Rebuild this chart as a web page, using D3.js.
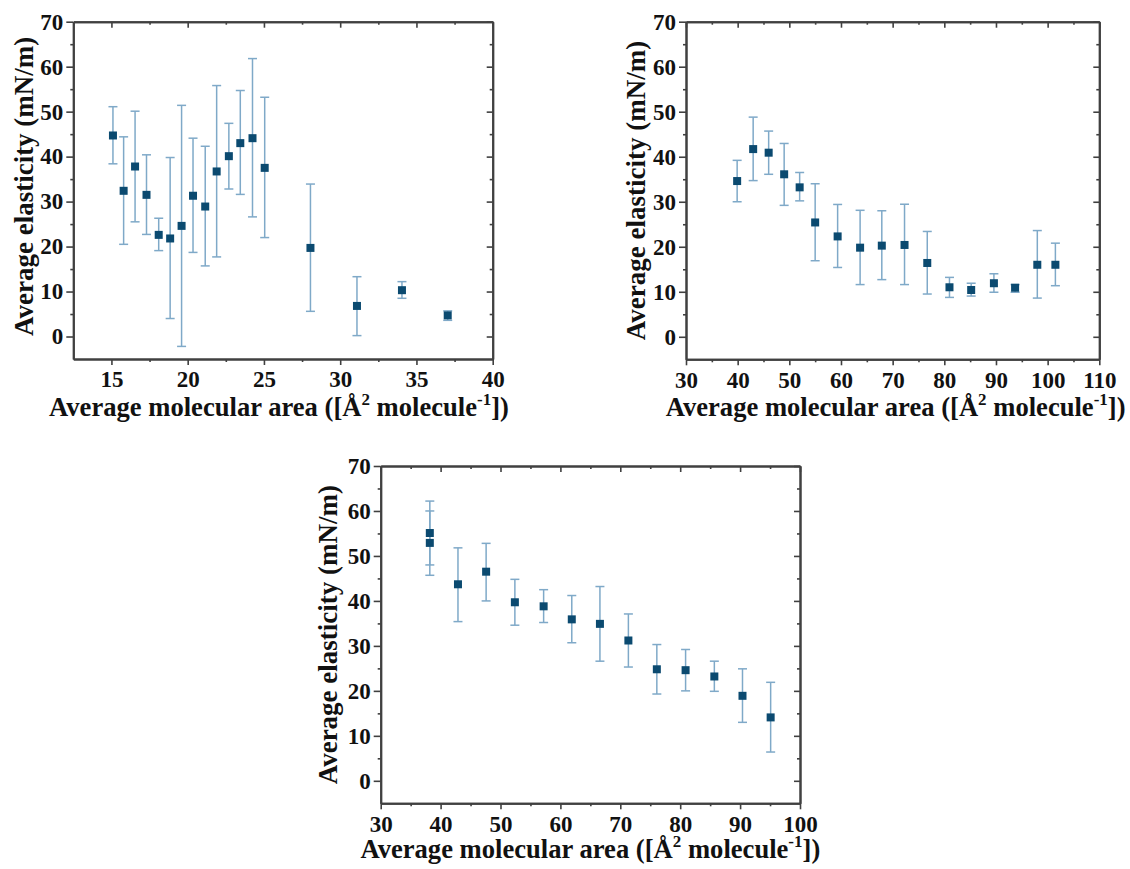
<!DOCTYPE html>
<html>
<head>
<meta charset="utf-8">
<script src="https://cdn.jsdelivr.net/npm/d3@7"></script>
<style>
  body { margin: 0; background: #fff; }
  svg { display: block; }
  .axis path, .axis line { stroke: #404040; }
  .lbl { font-family: 'Liberation Serif'; font-weight: bold; }
</style>
</head>
<body>
<svg id="chart" width="1130" height="869"></svg>
<script>
// panel A (top left)
const areaA = [15.1, 15.8, 16.55, 17.3, 18.1, 18.85, 19.6, 20.35, 21.15, 21.9, 22.7, 23.45, 24.25, 25.05, 28.05, 31.1, 34.05, 37.05];
const elastA = [44.7, 32.4, 37.8, 31.5, 22.6, 21.8, 24.6, 31.3, 28.9, 36.7, 40.1, 43.0, 44.1, 37.5, 19.7, 6.8, 10.3, 4.7];
const hiA = [51.1, 44.4, 50.1, 40.4, 26.3, 39.8, 51.4, 44.1, 42.3, 55.8, 47.4, 54.7, 61.8, 53.2, 33.9, 13.3, 12.2, 5.7];
const loA = [38.4, 20.5, 25.5, 22.7, 19.1, 4.0, -2.2, 18.7, 15.7, 17.7, 32.8, 31.6, 26.6, 22.0, 5.6, 0.2, 8.5, 3.6];

// panel B (top right)
const areaB = [39.9, 43.0, 46.0, 49.0, 52.0, 55.0, 59.35, 63.7, 67.9, 72.3, 76.7, 81.0, 85.2, 89.6, 93.7, 98.0, 101.5];
const elastB = [34.6, 41.7, 40.9, 36.1, 33.2, 25.4, 22.3, 19.8, 20.25, 20.4, 16.4, 11.0, 10.4, 11.9, 10.9, 16.0, 16.0];
const hiB = [39.2, 48.8, 45.7, 42.95, 36.5, 34.0, 29.4, 28.1, 28.0, 29.45, 23.4, 13.2, 11.9, 14.0, 11.6, 23.6, 20.8];
const loB = [30.0, 34.7, 36.1, 29.2, 30.2, 16.9, 15.4, 11.6, 12.7, 11.6, 9.5, 8.75, 9.05, 9.9, 9.9, 8.6, 11.35];

// panel C (bottom)
const areaC = [38.2, 38.2, 42.9, 47.6, 52.4, 57.2, 61.9, 66.6, 71.35, 76.1, 80.9, 85.7, 90.4, 95.1];
const elastC = [55.1, 52.9, 43.7, 46.5, 39.7, 38.8, 35.9, 34.9, 31.2, 24.8, 24.6, 23.2, 18.9, 14.1];
const hiC = [62.2, 60.0, 51.8, 52.8, 44.8, 42.5, 41.2, 43.2, 37.1, 30.3, 29.2, 26.6, 24.9, 21.9];
const loC = [48.0, 45.7, 35.4, 40.0, 34.6, 35.2, 30.7, 26.6, 25.3, 19.3, 20.0, 19.9, 13.0, 6.4];

const yMajor = [0, 10, 20, 30, 40, 50, 60, 70];
const yMinor = [5, 15, 25, 35, 45, 55, 65];
const xMajorA = [15, 20, 25, 30, 35, 40];
const xMinorA = [17.5, 22.5, 27.5, 32.5, 37.5];
const xMajorB = [30, 40, 50, 60, 70, 80, 90, 100, 110];
const xMinorB = [35, 45, 55, 65, 75, 85, 95, 105];
const xMajorC = [30, 40, 50, 60, 70, 80, 90, 100];
const xMinorC = [35, 45, 55, 65, 75, 85, 95];

const yTitle = "Average elasticity (mN/m)";

const svg = d3.select("#chart");

function serif(sel, size) {
  return sel
    .attr("class", "lbl")
    .attr("font-family", "'Liberation Serif'")
    .attr("font-weight", "bold")
    .attr("font-size", size)
    .attr("fill", "#111");
}

function drawPanel(cfg) {
  const { left, right, top, bottom } = cfg.box;
  const x = d3.scaleLinear().domain(cfg.xDomain).range([left, right]);
  const y = d3.scaleLinear().domain([-5, 70]).range([bottom, top]);
  const g = svg.append("g");

  // error bars
  const bars = g.append("g").attr("stroke", "#7fa9c8").attr("stroke-width", 1.5);
  cfg.xs.forEach((xv, i) => {
    const cx = x(xv);
    bars.append("line").attr("x1", cx).attr("x2", cx).attr("y1", y(cfg.hi[i])).attr("y2", y(cfg.lo[i]));
    [cfg.hi[i], cfg.lo[i]].forEach((v) => {
      bars.append("line").attr("x1", cx - 4.5).attr("x2", cx + 4.5).attr("y1", y(v)).attr("y2", y(v));
    });
  });

  // markers
  g.append("g")
    .selectAll("rect")
    .data(cfg.xs.map((xv, i) => [xv, cfg.ys[i]]))
    .join("rect")
    .attr("x", (d) => x(d[0]) - 4)
    .attr("y", (d) => y(d[1]) - 4)
    .attr("width", 8)
    .attr("height", 8)
    .attr("fill", "#0b4a70");

  // axes: bottom/left outward, top/right inward (mirror)
  const addAxis = (axis, transform, labels) => {
    const a = g.append("g").attr("class", "axis").attr("transform", transform).call(axis);
    a.selectAll("path").attr("stroke-width", 2);
    a.selectAll("line").attr("stroke-width", 1.6);
    if (!labels) a.selectAll("text").remove();
    else serif(a.selectAll("text"), 23);
    return a;
  };
  addAxis(d3.axisBottom(x).tickValues(cfg.xMajor).tickSize(6).tickSizeOuter(0).tickPadding(6).tickFormat(d3.format("d")), `translate(0,${bottom})`, true);
  addAxis(d3.axisBottom(x).tickValues(cfg.xMinor).tickSize(3).tickSizeOuter(0), `translate(0,${bottom})`, false);
  addAxis(d3.axisBottom(x).tickValues(cfg.xMajor).tickSize(6).tickSizeOuter(0), `translate(0,${top})`, false);
  addAxis(d3.axisBottom(x).tickValues(cfg.xMinor).tickSize(3).tickSizeOuter(0), `translate(0,${top})`, false);
  addAxis(d3.axisLeft(y).tickValues(yMajor).tickSize(7).tickSizeOuter(0).tickPadding(3).tickFormat(d3.format("d")), `translate(${left},0)`, true);
  addAxis(d3.axisLeft(y).tickValues(yMinor).tickSize(3).tickSizeOuter(0), `translate(${left},0)`, false);
  addAxis(d3.axisLeft(y).tickValues(yMajor).tickSize(6).tickSizeOuter(0), `translate(${right},0)`, false);
  addAxis(d3.axisLeft(y).tickValues(yMinor).tickSize(3).tickSizeOuter(0), `translate(${right},0)`, false);

  // y title
  serif(g.append("text"), 27)
    .attr("transform", `translate(${cfg.yTitleX},${(top + bottom) / 2 + cfg.yTitleShift}) rotate(-90)`)
    .attr("text-anchor", "middle")
    .text(yTitle);

  // x title with superscripts
  const xt = serif(g.append("text"), 26.6)
    .attr("x", (left + right) / 2 + cfg.xTitleShift)
    .attr("y", cfg.xTitleY)
    .attr("text-anchor", "middle");
  xt.append("tspan").text("Average molecular area ([Å");
  xt.append("tspan").attr("dy", -11).attr("font-size", 17).text("2");
  xt.append("tspan").attr("dy", 11).text(" molecule");
  xt.append("tspan").attr("dy", -11).attr("font-size", 17).text("-1");
  xt.append("tspan").attr("dy", 11).text("])");
}

drawPanel({
  box: { left: 73.3, right: 492.7, top: 21.7, bottom: 359 },
  xDomain: [12.5, 40], xMajor: xMajorA, xMinor: xMinorA,
  xs: areaA, ys: elastA, hi: hiA, lo: loA,
  yTitleX: 33, yTitleShift: -4, xTitleY: 416, xTitleShift: -4
});
drawPanel({
  box: { left: 686, right: 1099.3, top: 21.7, bottom: 359.3 },
  xDomain: [30, 110], xMajor: xMajorB, xMinor: xMinorB,
  xs: areaB, ys: elastB, hi: hiB, lo: loB,
  yTitleX: 645, yTitleShift: 0, xTitleY: 416, xTitleShift: 3
});
drawPanel({
  box: { left: 380.7, right: 800, top: 466, bottom: 803.3 },
  xDomain: [30, 100], xMajor: xMajorC, xMinor: xMinorC,
  xs: areaC, ys: elastC, hi: hiC, lo: loC,
  yTitleX: 337, yTitleShift: 0, xTitleY: 858, xTitleShift: 0
});
</script>
</body>
</html>
